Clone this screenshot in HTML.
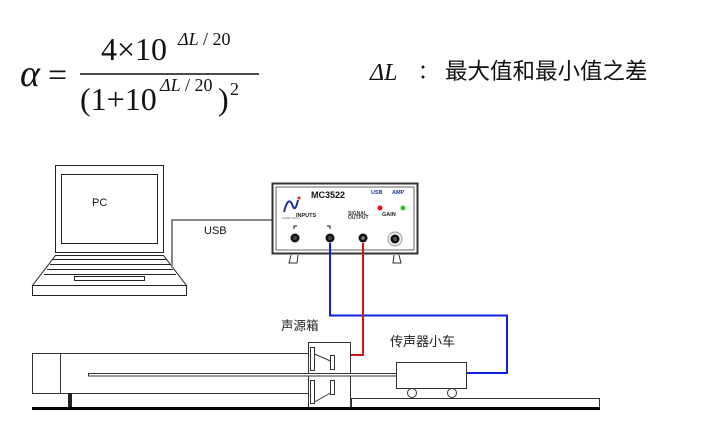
<!DOCTYPE html>
<html><head><meta charset="utf-8"><style>
html,body{margin:0;padding:0;background:#fff}
svg{display:block}
</style></head><body>
<svg width="722" height="445" viewBox="0 0 722 445" xmlns="http://www.w3.org/2000/svg">
<g font-family="Liberation Serif, serif" fill="#111">
<text x="20" y="86" font-size="38" font-style="italic">α</text>
<text x="48" y="86" font-size="34">=</text>
<text x="101" y="60" font-size="32">4×10</text>
<text x="178" y="45" font-size="18" font-style="italic">ΔL</text>
<text x="203" y="45" font-size="18">/ 20</text>
<line x1="80" y1="74" x2="259" y2="74" stroke="#111" stroke-width="1.6"/>
<text x="80" y="110" font-size="32">(1+10</text>
<text x="160" y="91" font-size="18" font-style="italic">ΔL</text>
<text x="185" y="91" font-size="18">/ 20</text>
<text x="218" y="110" font-size="32">)</text>
<text x="230" y="95" font-size="18">2</text>
<text x="370" y="80" font-size="24" font-style="italic">ΔL</text>
</g>
<text x="418" y="78" font-size="20" font-family="Noto Sans CJK SC, sans-serif" fill="#111">：</text>
<text x="445" y="79" font-size="22.5" font-family="Noto Sans CJK SC, sans-serif" fill="#111">最大值和最小值之差</text>

<!-- laptop -->
<g fill="none" stroke="#222" stroke-width="1">
<rect x="55.5" y="165.5" width="108" height="87"/>
<rect x="61.5" y="174.5" width="96" height="69"/>
<path d="M55.5 255.5 L163.5 255.5 L186.5 285.5 L32.5 285.5 Z"/>
<path d="M53 259.5 L167 259.5 M50 264.5 L170 264.5 M47 269.5 L173 269.5 M44 274.5 L176 274.5"/>
<rect x="74.5" y="276.5" width="70" height="4"/>
<rect x="32.5" y="285.5" width="154" height="10"/>
</g>
<text x="92" y="206" font-size="11" font-family="Liberation Sans, sans-serif" fill="#111">PC</text>
<path d="M172 268 L172 220 L272 220" fill="none" stroke="#888" stroke-width="2"/>
<text x="204" y="234" font-size="11" font-family="Liberation Sans, sans-serif" fill="#111">USB</text>

<!-- MC3522 -->
<rect x="272.5" y="183.5" width="145" height="70" fill="#fff" stroke="#333" stroke-width="2"/>
<rect x="276" y="187" width="138" height="63" fill="none" stroke="#666" stroke-width="1"/>
<path d="M284 212 Q288 196 292 204 Q295 214 298 200" fill="none" stroke="#223399" stroke-width="2"/>
<circle cx="299" cy="198" r="1.5" fill="#d22"/>
<text x="282" y="219" font-size="3" fill="#666" font-family="Liberation Sans, sans-serif">CORE TECH</text>
<text x="311" y="198" font-size="9" font-weight="bold" font-family="Liberation Sans, sans-serif" fill="#111">MC3522</text>
<text x="371" y="194" font-size="5.5" font-weight="bold" font-family="Liberation Sans, sans-serif" fill="#1a3aa0">USB</text>
<text x="392" y="194" font-size="5.5" font-weight="bold" font-family="Liberation Sans, sans-serif" fill="#1a3aa0">AMP</text>
<circle cx="380" cy="208" r="2.5" fill="#e11"/>
<circle cx="403" cy="208" r="2.5" fill="#2c2"/>
<text x="296" y="217" font-size="5.5" font-weight="bold" font-family="Liberation Sans, sans-serif" fill="#222">INPUTS</text>
<text x="348" y="215" font-size="5" font-weight="bold" font-family="Liberation Sans, sans-serif" fill="#333">SIGNAL</text>
<text x="348" y="219" font-size="5" font-weight="bold" font-family="Liberation Sans, sans-serif" fill="#333">OUTPUT</text>
<text x="382" y="216" font-size="5.5" font-weight="bold" font-family="Liberation Sans, sans-serif" fill="#222">GAIN</text>
<path d="M294 229 L294 226 L297 226 M327 226 L330 226 L330 229" fill="none" stroke="#111" stroke-width="1"/>
<circle cx="295" cy="238" r="4.5" fill="#111"/><circle cx="295" cy="238" r="2" fill="#444"/>
<circle cx="330" cy="238" r="4.5" fill="#111"/><circle cx="330" cy="238" r="2" fill="#444"/>
<circle cx="363" cy="238" r="4.5" fill="#111"/><circle cx="363" cy="238" r="1.8" fill="#888"/>
<circle cx="395" cy="239" r="7" fill="#eee" stroke="#999"/><circle cx="395" cy="239" r="4.5" fill="#111"/><circle cx="395" cy="239" r="2" fill="#555"/>
<path d="M291 255 L289 263 L297 263 L298 255 M394 255 L393 263 L401 263 L399 255" fill="none" stroke="#333" stroke-width="1"/>

<!-- cables -->
<path d="M330 243 L330 315.5 L507 315.5 L507 373 L467 373" fill="none" stroke="#1020e0" stroke-width="2"/>
<path d="M363 243 L363 355 L351 355" fill="none" stroke="#e01010" stroke-width="2"/>

<!-- apparatus -->
<g fill="#fff" stroke="#333" stroke-width="1">
<rect x="32.5" y="353.5" width="28" height="40"/>
<rect x="60.5" y="353.5" width="248" height="40"/>
<rect x="308.5" y="342.5" width="42" height="66"/>
<rect x="351.5" y="398.5" width="248" height="10"/>
<rect x="88.5" y="373.5" width="308" height="2.5"/>
<rect x="396.5" y="362.5" width="70" height="26"/>
<circle cx="412" cy="393" r="4.5"/>
<circle cx="452" cy="393" r="4.5"/>
<rect x="310.5" y="347.5" width="4" height="23"/>
<rect x="330.5" y="355.5" width="4" height="14"/>
<rect x="310.5" y="380.5" width="4" height="23"/>
<rect x="330.5" y="380.5" width="4" height="14"/>
<path d="M314.5 354 L330.5 361 M314.5 402 L330.5 393" fill="none"/>
</g>
<rect x="68" y="393" width="4" height="15" fill="#222"/>
<rect x="32" y="407" width="568" height="3" fill="#000"/>
<text x="281" y="330" font-size="12.5" font-family="Noto Sans CJK SC, sans-serif" fill="#222">声源箱</text>
<text x="390" y="346" font-size="13" font-family="Noto Sans CJK SC, sans-serif" fill="#222">传声器小车</text>
</svg>
</body></html>
